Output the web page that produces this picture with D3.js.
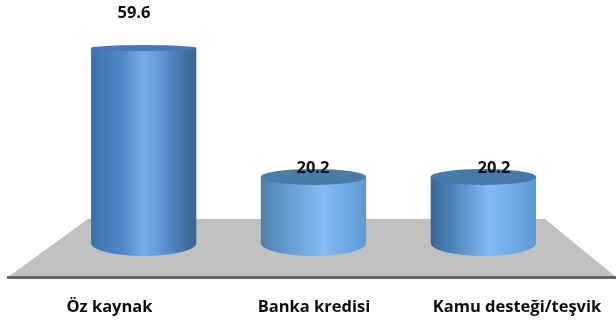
<!DOCTYPE html>
<html><head><meta charset="utf-8">
<script src="https://cdn.jsdelivr.net/npm/d3@7"></script>
<style>html,body{margin:0;padding:0;background:#fff;overflow:hidden}svg{display:block}text{font-family:"Open Sans",Lato,sans-serif;font-weight:700;fill:#111}</style>
</head><body><svg id="c" width="616" height="324"></svg>
<script>
const categories = ["Öz kaynak","Banka kredisi","Kamu desteği/teşvik"];
const values = [59.6,20.2,20.2];
const labels = ["59.6","20.2","20.2"];
const sideStops = [
 [[0,"#3b70ae"],[.3,"#5288c8"],[.5,"#79aceb"],[.7,"#5a8fcf"],[.9,"#41709f"],[1,"#3a6595"]],
 [[0,"#4f7fa9"],[.25,"#639ad0"],[.6,"#86bcf2"],[.85,"#6aa6e0"],[1,"#5f98cf"]],
 [[0,"#376797"],[.2,"#4d83b8"],[.55,"#84b9f0"],[.85,"#69a6e2"],[1,"#5a98d4"]]
];
const topColors = ["#4a79b4","#4a7ba6","#467aa8"];
const svg = d3.select("#c");
const x = d3.scaleBand().domain(categories).range([91,536]).paddingInner(0.38).paddingOuter(0);
const y = d3.scaleLinear().domain([0,59.6]).range([243,48]);
const ry = d3.scaleLinear().domain([0,20.2,59.6]).range([13,8,3]);
const defs = svg.append("defs");
categories.forEach((c,i)=>{
  const g = defs.append("linearGradient").attr("id","g"+i);
  sideStops[i].forEach(s=>g.append("stop").attr("offset",s[0]).attr("stop-color",s[1]));
});
defs.append("filter").attr("id","soft").attr("filterUnits","userSpaceOnUse")
  .attr("x",0).attr("y",0).attr("width",616).attr("height",324)
  .append("feGaussianBlur").attr("stdDeviation",0.4);
const root = svg.append("g").attr("filter","url(#soft)");
root.append("polygon").attr("points","88,219 545,219 616,277 8,277").attr("fill","#c0c0c0");
root.append("rect").attr("x",7).attr("width",609).attr("y",276).attr("height",3).attr("fill","#666");
const bars = root.selectAll("g.bar").data(categories).join("g").attr("class","bar");
bars.append("path").attr("fill",(d,i)=>`url(#g${i})`).attr("d",(d,i)=>{
  const l=x(d), w=x.bandwidth(), r=l+w, t=y(values[i]), b=y(0), a=w/2, rb=ry(0);
  return `M${l},${t}L${l},${b}A${a},${rb} 0 0 0 ${r},${b}L${r},${t}Z`;
});
bars.append("ellipse").attr("cx",d=>x(d)+x.bandwidth()/2).attr("cy",(d,i)=>y(values[i]))
  .attr("rx",x.bandwidth()/2).attr("ry",(d,i)=>ry(values[i])).attr("fill",(d,i)=>topColors[i]);
root.selectAll("text.v").data(labels).join("text").attr("class","v").attr("text-anchor","middle")
  .attr("x",(d,i)=>[134,313,494][i]).attr("y",(d,i)=>[18,173,173][i]).attr("font-size",16.5).text(d=>d);
root.selectAll("text.c").data(categories).join("text").attr("class","c").attr("text-anchor","middle")
  .attr("x",(d,i)=>[109.5,314,517][i]).attr("y",312).attr("font-size",16.5).text(d=>d);
</script></body></html>
